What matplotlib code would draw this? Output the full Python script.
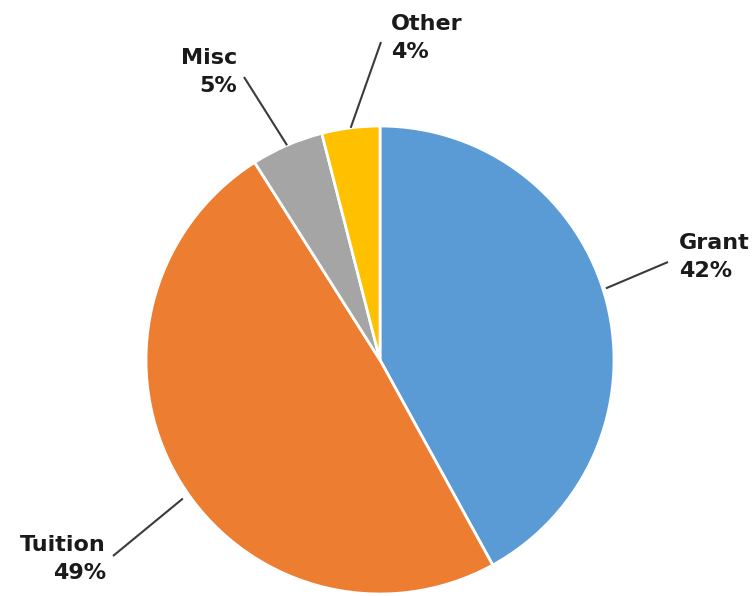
import numpy as np
import matplotlib.pyplot as plt

# data
labels = ['Grant', 'Tuition', 'Misc', 'Other']
values = [42, 49, 5, 4]
colors = ['#5B9BD5', '#ED7D31', '#A5A5A5', '#FFC000']

W, H = 752, 596
cx, cy, R = 380, 360, 234

# label layout (pixel coords, y down): leader end, text anchor, alignment
leader_end = [(668, 262), (113, 556), (244, 77), (381, 42)]
leader_shift = [3.2, 4.5, 0, 0]  # degrees, where the leader meets the edge
leader_gap = [3, 7, 0, 0]
text_pos = [(679, 257), (106, 559), (237, 72), (391, 38)]
text_ha = ['left', 'right', 'right', 'left']


def py(y):
    return H - y


fig = plt.figure(figsize=(W / 100, H / 100), dpi=100)
ax = fig.add_axes([0, 0, 1, 1])

wedges, _ = ax.pie(values, colors=colors, startangle=90, counterclock=False,
                   center=(cx, py(cy)), radius=R,
                   wedgeprops=dict(edgecolor='white', linewidth=2))
ax.set_xlim(0, W)
ax.set_ylim(0, H)
ax.set_aspect('equal')
ax.axis('off')

for w, lab, v, end, sh, gap, tp, ha in zip(wedges, labels, values, leader_end,
                                           leader_shift, leader_gap, text_pos,
                                           text_ha):
    mid = np.deg2rad((w.theta1 + w.theta2) / 2 + sh)
    x0 = cx + (R + gap) * np.cos(mid)
    y0 = py(cy) + (R + gap) * np.sin(mid)
    ax.plot([x0, end[0]], [y0, py(end[1])], color='#3a3a3a', lw=1.5,
            solid_capstyle='butt')
    ax.text(tp[0], py(tp[1]), '%s\n%d%%' % (lab, v), ha=ha, va='center',
            multialignment=ha, fontsize=16, fontweight='bold',
            color='#1a1a1a', linespacing=1.55)

fig.savefig('out.png', dpi=100)
